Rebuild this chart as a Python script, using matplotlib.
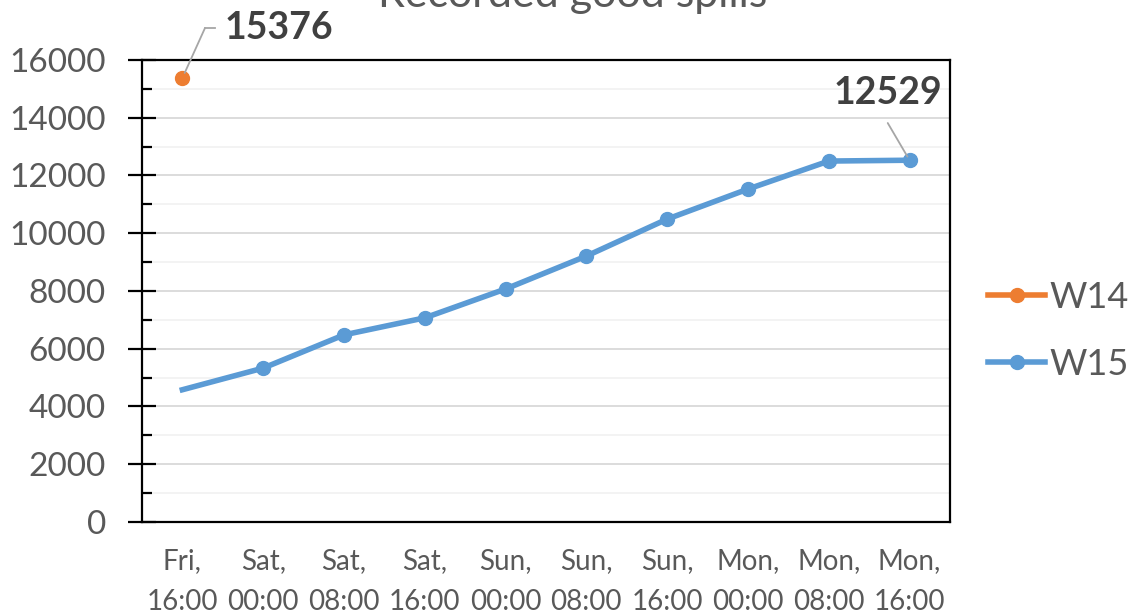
import matplotlib as mpl
import matplotlib.pyplot as plt
from matplotlib.ticker import MultipleLocator

times = ['Fri,\n16:00', 'Sat,\n00:00', 'Sat,\n08:00', 'Sat,\n16:00', 'Sun,\n00:00',
         'Sun,\n08:00', 'Sun,\n16:00', 'Mon,\n00:00', 'Mon,\n08:00', 'Mon,\n16:00']
w14 = [15376]
w15 = [4580, 5330, 6480, 7070, 8070, 9210, 10490, 11530, 12500, 12529]

orange = '#ED7D31'
blue = '#5B9BD5'
grey = '#595959'

mpl.rcParams['font.family'] = ['Lato', 'DejaVu Sans']

dpi = 100
fig = plt.figure(dpi=dpi, figsize=(1134 / dpi, 616 / dpi))
ax = fig.add_axes([0.1252, 0.1526, 0.8377 - 0.1252, 0.9026 - 0.1526])

xs = list(range(len(times)))
ax.plot(xs, w15, color=blue, lw=4, marker='o', ms=10, markevery=list(range(1, len(xs))),
        label='W15', zorder=3)
ax.plot(xs[:1], w14, color=orange, lw=4, marker='o', ms=10, label='W14', zorder=3)

ax.set_xlim(-0.5, 9.5)
ax.set_ylim(0, 16000)
ax.yaxis.set_major_locator(MultipleLocator(2000))
ax.yaxis.set_minor_locator(MultipleLocator(1000))
ax.grid(which='major', axis='y', color='#d9d9d9', lw=1.3)
ax.grid(which='minor', axis='y', color='#f2f2f2', lw=1.3)
ax.set_axisbelow(True)
for s in ax.spines.values():
    s.set_linewidth(1.6)
    s.set_color('black')

ax.set_xticks(xs)
ax.set_xticklabels(times, fontsize=20, color=grey, linespacing=1.7)
ax.tick_params(axis='x', length=0, pad=19)
ax.tick_params(axis='y', which='major', direction='inout', length=20, width=1.6,
               labelsize=24, labelcolor=grey, pad=16)
ax.tick_params(axis='y', which='minor', direction='in', length=7, width=1.6)

# title sits partly above the canvas, as in the source image
fig.text(0.505, 1 - 7 / 616, 'Recorded good spills', fontsize=31, color=grey,
         ha='center', va='baseline')

# data labels with leader lines
ax.annotate(str(w14[0]), xy=(0.527, 17108), fontsize=27, fontweight='bold',
            color='#404040', va='center', ha='left', annotation_clip=False)
ax.annotate('', xy=(0, w14[0]), xytext=(0.28, 17108),
            arrowprops=dict(arrowstyle='-', color='#a6a6a6', lw=1.3, shrinkA=0, shrinkB=4),
            annotation_clip=False)
ax.plot([0.28, 0.40], [17108, 17108], color='#a6a6a6', lw=1.3, clip_on=False)

ax.annotate(str(w15[-1]), xy=(8.73, 14850), fontsize=27, fontweight='bold',
            color='#404040', va='center', ha='center')
ax.annotate('', xy=(9, w15[-1]), xytext=(8.73, 13818),
            arrowprops=dict(arrowstyle='-', color='#a6a6a6', lw=1.3, shrinkA=0, shrinkB=3))

handles, labels = ax.get_legend_handles_labels()
fig.legend(handles[::-1], labels[::-1], loc='center left', bbox_to_anchor=(0.871, 0.463),
           frameon=False, fontsize=26, labelcolor=grey, handlelength=1.6,
           handletextpad=0.1, labelspacing=0.95, borderpad=0, borderaxespad=0)

plt.savefig('out.png', dpi=dpi)
